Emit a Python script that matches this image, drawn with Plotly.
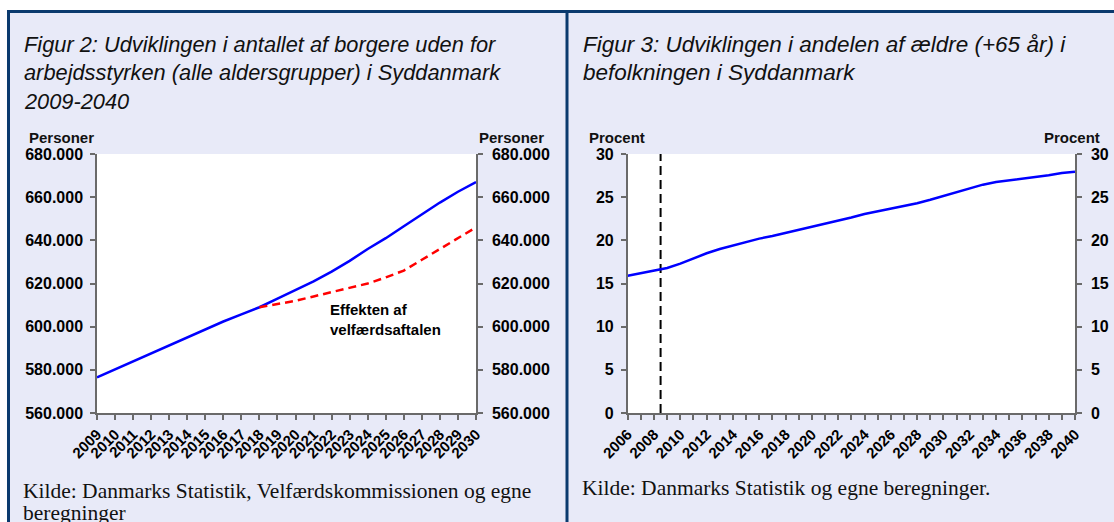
import plotly.graph_objects as go

# ---------------- data ----------------
years_left = list(range(2009, 2031))
borgere_uden = [576500, 580200, 583800, 587500, 591300, 595200, 598900, 602400,
                605700, 609000, 613000, 617000, 621000, 625500, 630500, 636000,
                641000, 646500, 652000, 657500, 662500, 667000]
years_effekt = list(range(2018, 2031))
effekt_velfaerd = [609000, 610500, 612000, 614000, 616000, 618000, 620000,
                   622800, 626000, 631000, 636000, 641000, 646000]

years_right = list(range(2006, 2041))
andel_aeldre = [15.9, 16.2, 16.5, 16.8, 17.3, 17.9, 18.5, 19.0, 19.4, 19.8,
                20.2, 20.5, 20.85, 21.2, 21.55, 21.9, 22.25, 22.65, 23.05,
                23.35, 23.65, 23.95, 24.3, 24.7, 25.15, 25.6, 26.05, 26.45,
                26.75, 26.95, 27.1, 27.3, 27.55, 27.8, 27.95]
skillelinje_x = [2008.5, 2008.5]
skillelinje_y = [0, 30]
right_tick_years = list(range(2006, 2041, 2))

W, H = 1114, 522
def px(x):
    return x / W
def py(y):
    return 1 - y / H

NAVY = "#0A3A6E"
BG = "#E8EAF8"
AX = "#6A6A6A"
SANS = "Liberation Sans, Arial, sans-serif"
SERIF = "Liberation Serif, Times New Roman, serif"

fig = go.Figure()
fig.add_trace(go.Scatter(x=years_left, y=borgere_uden, mode="lines",
                         line=dict(color="#0000FF", width=2.5),
                         xaxis="x", yaxis="y", showlegend=False))
fig.add_trace(go.Scatter(x=years_effekt, y=effekt_velfaerd, mode="lines",
                         line=dict(color="#FF0000", width=2.5, dash="8px,5px"),
                         xaxis="x", yaxis="y2", showlegend=False))
fig.add_trace(go.Scatter(x=skillelinje_x, y=skillelinje_y, mode="lines",
                         line=dict(color="#000000", width=2, dash="9px,5px"),
                         xaxis="x3", yaxis="y3", showlegend=False))
fig.add_trace(go.Scatter(x=years_right, y=andel_aeldre, mode="lines",
                         line=dict(color="#0000FF", width=2.5),
                         xaxis="x3", yaxis="y4", showlegend=False))

tickfont = dict(family=SANS, size=16, color="black", weight="bold")
xtickfont = dict(family=SANS, size=15, color="black", weight="bold")
common_axis = dict(showline=True, linecolor=AX, linewidth=1.5, ticks="outside",
                   ticklen=5, tickwidth=1.5, tickcolor=AX, showgrid=False,
                   zeroline=False, automargin=False)

ydom = [py(413), py(154)]
fig.update_layout(
    width=W, height=H, margin=dict(l=0, r=0, t=0, b=0, autoexpand=False),
    paper_bgcolor=BG, plot_bgcolor="white", separators=",.",
    xaxis=dict(domain=[px(97), px(476)], range=[2009, 2030], anchor="y",
               tickvals=years_left, ticktext=[str(y) for y in years_left],
               tickangle=-45, tickfont=xtickfont, **common_axis),
    yaxis=dict(domain=ydom, range=[560000, 680000], dtick=20000,
               tickformat=",.0f", anchor="x", tickfont=tickfont,
               ticklabelstandoff=4, **common_axis),
    yaxis2=dict(overlaying="y", side="right", anchor="x", matches="y",
                range=[560000, 680000], dtick=20000, tickformat=",.0f",
                tickfont=tickfont, ticklabelstandoff=6, **common_axis),
    xaxis3=dict(domain=[px(627.7), px(1075)], range=[2006, 2040], anchor="y3",
                tickvals=right_tick_years,
                ticktext=[str(y) for y in right_tick_years],
                tickangle=-45, tickfont=xtickfont,
                minor=dict(dtick=1, ticks="outside", ticklen=5, tickwidth=1.5,
                           tickcolor=AX),
                **common_axis),
    yaxis3=dict(domain=ydom, range=[0, 30], dtick=5, anchor="x3",
                tickfont=tickfont, ticklabelstandoff=4, **common_axis),
    yaxis4=dict(overlaying="y3", side="right", anchor="x3", matches="y3",
                range=[0, 30], dtick=5, tickfont=tickfont,
                ticklabelstandoff=6, **common_axis),
)

# frame: white strips and navy borders
fig.add_shape(type="rect", xref="paper", yref="paper", x0=0, x1=1, y0=py(10), y1=1,
              fillcolor="white", line_width=0, layer="below")
fig.add_shape(type="rect", xref="paper", yref="paper", x0=0, x1=px(7), y0=0, y1=1,
              fillcolor="white", line_width=0, layer="below")
for (x0, y0, x1, y1) in [(7, 11.5, W, 11.5), (8.5, 11, 8.5, H), (567, 11, 567, H)]:
    fig.add_shape(type="line", xref="paper", yref="paper",
                  x0=px(x0), x1=px(x1), y0=py(y0), y1=py(y1),
                  line=dict(color=NAVY, width=3))

def ann(text, x, y, size, family, xanchor="left", yanchor="middle", weight="normal", italic=False):
    t = f"<i>{text}</i>" if italic else text
    fig.add_annotation(text=t, x=px(x), y=py(y), xref="paper", yref="paper",
                       xanchor=xanchor, yanchor=yanchor, showarrow=False,
                       align="left",
                       font=dict(family=family, size=size, color="#111111", weight=weight))

# titles
left_title = ["Figur 2: Udviklingen i antallet af borgere uden for",
              "arbejdsstyrken (alle aldersgrupper) i Syddanmark",
              "2009-2040"]
right_title = ["Figur 3: Udviklingen i andelen af ældre (+65 år) i",
               "befolkningen i Syddanmark"]
for i, line in enumerate(left_title):
    ann(line, 22, 44 + 29 * i, 21.8, SANS, italic=True)
for i, line in enumerate(right_title):
    ann(line, 581, 44 + 29 * i, 22.5, SANS, italic=True)

# axis unit labels
ann("Personer", 27, 137, 15, SANS, weight="bold")
ann("Personer", 477, 137, 15, SANS, weight="bold")
ann("Procent", 587, 137, 15, SANS, weight="bold")
ann("Procent", 1102, 137, 15, SANS, xanchor="right", weight="bold")

# in-chart label
fig.add_annotation(text="Effekten af<br>velfærdsaftalen", x=2021.8, y=603500,
                   xref="x", yref="y", xanchor="left", yanchor="middle",
                   showarrow=False, align="left",
                   font=dict(family=SANS, size=15, color="black", weight="bold"))

# sources
ann("Kilde: Danmarks Statistik, Velfærdskommissionen og egne", 21, 491, 21.5, SERIF)
ann("beregninger", 21, 513, 21.5, SERIF)
ann("Kilde: Danmarks Statistik og egne beregninger.", 580, 488, 21.5, SERIF)

fig.write_html(
    "out.html",
    config={"displayModeBar": False},
    post_script="document.body.style.margin='0';document.body.style.padding='0';"
                "document.documentElement.style.overflow='hidden';",
)
